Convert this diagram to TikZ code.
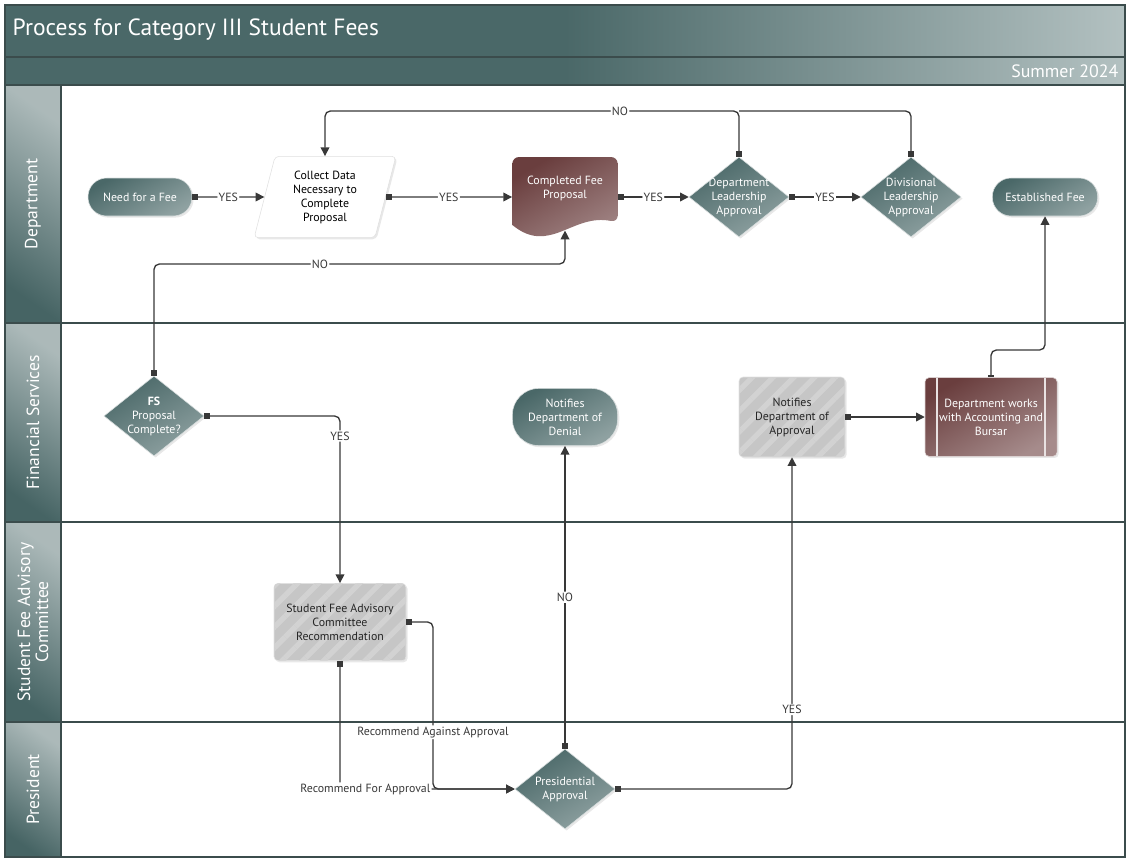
\documentclass[tikz,border=0pt]{standalone}
\usepackage{fontspec}
\setmainfont{PT Sans}
\usepackage{tikz}
\usetikzlibrary{arrows.meta, shapes.geometric, shadows, patterns.meta}
\definecolor{feeteal}{HTML}{4A6868}
\definecolor{feepale}{HTML}{B3C1C1}
\definecolor{feelane}{HTML}{466464}
\definecolor{feemaroon}{HTML}{6A3E3E}
\definecolor{feegrey}{HTML}{C6C6C6}
\definecolor{feestripe}{HTML}{D2D2D2}
\definecolor{feeline}{HTML}{383838}
\definecolor{feeborder}{HTML}{3B4C4C}
\tikzstyle{block} = [align=center, inner sep=2pt, font=\fontsize{8.9}{10.5}\selectfont]
\tikzstyle{shadowed} = [drop shadow={opacity=0.18, shadow xshift=1.2pt, shadow yshift=-1.2pt}]
\tikzstyle{tealshade} = [top color=feeteal, middle color=feeteal, bottom color=feeteal!62!white, shading angle=30]
\tikzstyle{terminal} = [block, rectangle, shadowed, tealshade, draw=white!80!feeteal, text=white, minimum width=78pt, minimum height=28.5pt, rounded corners=14pt]
\tikzstyle{decision} = [diamond, shadowed, tealshade, draw=white!80!feeteal, minimum width=75pt, minimum height=60pt, inner sep=0pt]
\tikzstyle{decisiontext} = [block, text=white, inner sep=0pt]
\tikzstyle{inputbox} = [block, trapezium, trapezium left angle=76, trapezium right angle=104, trapezium stretches=true, shadowed, fill=white, draw=black!12, rounded corners=3pt, minimum width=107pt, minimum height=61pt]
\tikzstyle{docbox} = [rectangle, minimum width=79pt, minimum height=60pt, inner sep=0pt, path picture={%
    \shade [top color=feemaroon, middle color=feemaroon, bottom color=feemaroon!60!white, shading angle=30]
        ([yshift=9pt]path picture bounding box.south west) [rounded corners=5pt] |- (path picture bounding box.north east)
        -- ([yshift=11pt]path picture bounding box.south east) [sharp corners]
        .. controls +(-34pt,7pt) and +(28pt,-23pt) .. ([yshift=9pt]path picture bounding box.south west) -- cycle;}]
\tikzstyle{doctext} = [block, text=white, inner sep=0pt]
\tikzstyle{greybox} = [block, rectangle, rounded corners=3pt, shadowed, fill=feegrey, draw=white!90!black, text=black!85, postaction={pattern={Lines[angle=45, distance=11pt, line width=4pt]}, pattern color=feestripe}]
\tikzstyle{subproc} = [block, rectangle, rounded corners=3pt, shadowed, top color=feemaroon, middle color=feemaroon, bottom color=feemaroon!60!white, shading angle=30, draw=white!80!feemaroon, text=white, path picture={%
    \draw [white!85!feemaroon, line width=1.2pt] ([xshift=9pt]path picture bounding box.north west) -- ([xshift=9pt]path picture bounding box.south west)
        ([xshift=-9pt]path picture bounding box.north east) -- ([xshift=-9pt]path picture bounding box.south east);}]
\tikzstyle{lanefill} = [top color=feelane!45!white, middle color=feelane, bottom color=feelane, shading angle=-35]
\tikzstyle{lanetitle} = [rotate=90, text=white, align=center, font=\fontsize{13.2}{13.5}\selectfont]
\tikzstyle{tag} = [fill=white, inner sep=1pt, text=feeline, font=\fontsize{8.9}{10}\selectfont]
\tikzstyle{flow} = [draw=feeline, line width=1pt, rounded corners=4pt, arrows={Square[length=4.5pt, width=4.5pt]-Triangle[length=6.5pt, width=6.5pt]}]
\tikzstyle{joinline} = [draw=feeline, line width=1pt, rounded corners=4pt, arrows={Square[length=4.5pt, width=4.5pt]-}]
\tikzstyle{smallflow} = [flow, arrows={Square[length=2pt, width=4pt]-Triangle[length=6.5pt, width=6.5pt]}]

\begin{document}
\begin{tikzpicture}[x=0.75pt, y=-0.75pt]
    \useasboundingbox (0,0) rectangle (1130,860);

    % Header and lanes.
    \shade [left color=feeteal, right color=feepale, middle color=feeteal] (5,5) rectangle (1125,85);
    \fill [white] (61,85) rectangle (1125,857);
    \foreach \ytop/\ybot/\lane [count=\i] in {85/323/Department, 323/522/Financial Services, 522/722/{Student Fee Advisory\\Committee}, 722/857/President} {%
        \shade [lanefill] (5,\ytop) rectangle (61,\ybot);
        \node (lane \i) [lanetitle] at (33,{(\ytop+\ybot)/2}) {\lane};
    }
    \draw [feeborder, line width=1.8pt] (5,5) rectangle (1125,857);
    \foreach \y in {57, 85, 323, 522, 722} {%
        \draw [feeborder, line width=1.8pt] (5,\y) -- (1125,\y);
    }
    \draw [feeborder, line width=1.8pt] (61,85) -- (61,857);
    \node (title) [anchor=west, text=white, font=\fontsize{17.6}{20}\selectfont] at (8,30) {Process for Category III Student Fees};
    \node (season) [anchor=east, text=white, font=\fontsize{13.4}{15}\selectfont] at (1123,71) {Summer 2024};

    % Steps.
    \node (need) [terminal] at (140,197) {Need for a Fee};
    \node (collect) [inputbox] at (325,197) {Collect Data\\Necessary to\\Complete\\Proposal};
    \node (proposal) [docbox, label={[doctext, yshift=6.5pt]center:Completed Fee\\Proposal}] at (565,197) {};
    \node (dept lead) [decision, label={[decisiontext]center:Department\\Leadership\\Approval}] at (739,197) {};
    \node (div lead) [decision, label={[decisiontext]center:Divisional\\Leadership\\Approval}] at (911,197) {};
    \node (established) [terminal, minimum width=79pt] at (1045,197) {Established Fee};
    \node (fs check) [decision, label={[decisiontext]center:\textbf{FS}\\Proposal\\Complete?}] at (154,416) {};
    \node (denial) [terminal, minimum width=79pt, minimum height=43pt, rounded corners=20pt] at (565,417) {Notifies\\Department of\\Denial};
    \node (approval) [greybox, minimum width=79.5pt, minimum height=60pt] at (792,417) {Notifies\\Department of\\Approval};
    \node (bursar) [subproc, minimum width=99pt, minimum height=59pt] at (991,417) {Department works\\with Accounting and\\Bursar};
    \node (sfac) [greybox, minimum width=99pt, minimum height=58pt] at (340,622) {Student Fee Advisory\\Committee\\Recommendation};
    \node (president) [decision, label={[decisiontext]center:Presidential\\Approval}] at (565,789) {};

    \coordinate (no return) at (620,111);
    \coordinate (fs return) at (320,264);
    \coordinate (against turn) at (433,789);
    \coordinate (bursar turn) at (1045,350);

    % Arrows.
    \draw [flow] (need) -- node [tag] {YES} (collect);
    \draw [flow] (collect) -- node [tag] {YES} (proposal);
    \draw [flow] (proposal) -- node [tag] {YES} (dept lead);
    \draw [flow] (dept lead) -- node [tag] {YES} (div lead);
    \draw [flow] (dept lead.north) |- node [tag, pos=1] {NO} (no return) -| (collect.north);
    \draw [joinline] (div lead.north) |- (dept lead.north |- no return);
    \draw [flow] (fs check.north) |- node [tag, pos=1] {NO} (fs return) -| ([yshift=5pt]proposal.south);
    \draw [flow] (fs check.east) -| node [tag, pos=0.56] {YES} (sfac.north);
    \draw [flow] (sfac.east) -| node [tag, pos=0.83] {Recommend Against Approval} (against turn) -- (president.west);
    \draw [flow] (sfac.south) |- node [tag, pos=0.5, xshift=19pt] {Recommend For Approval} (president.west);
    \draw [flow] (president.north) -- node [tag] {NO} (denial.south);
    \draw [flow] (president.east) -| node [tag, pos=0.62] {YES} (approval.south);
    \draw [flow] (approval) -- (bursar);
    \draw [smallflow] (bursar.north) |- (bursar turn) -- (established.south);
\end{tikzpicture}
\end{document}
